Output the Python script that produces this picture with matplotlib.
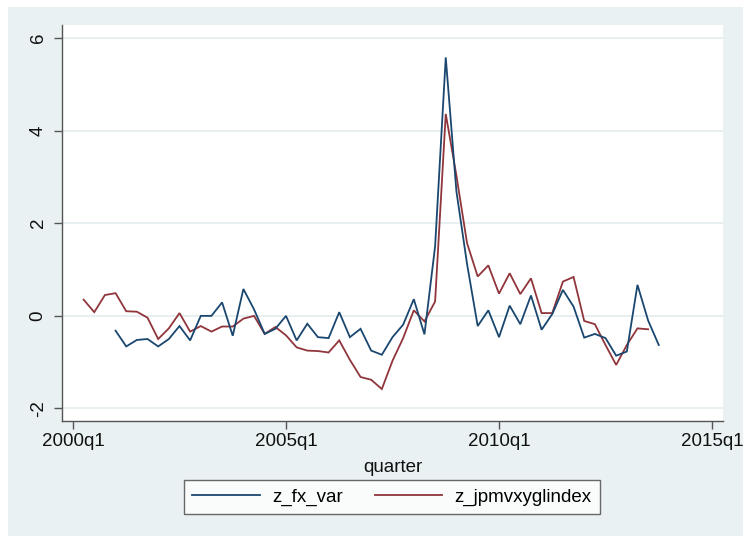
import matplotlib
matplotlib.use("Agg")
import matplotlib.pyplot as plt
from matplotlib.patches import Rectangle
import numpy as np

plt.rcParams['font.family'] = ['Liberation Sans', 'DejaVu Sans']

# Quarterly series (quarter index 0 = 2000q1)
fx_start = "2001q1"
z_fx_var = [
    -0.32, -0.66, -0.52, -0.50, -0.66, -0.50, -0.22, -0.53,
    0.00, 0.00, 0.29, -0.43, 0.58, 0.14, -0.39, -0.28,
    0.00, -0.53, -0.17, -0.46, -0.48, 0.08, -0.46, -0.28,
    -0.75, -0.84, -0.46, -0.19, 0.36, -0.40, 1.50, 5.58,
    2.69, 1.12, -0.22, 0.12, -0.46, 0.22, -0.18, 0.44,
    -0.30, 0.04, 0.56, 0.20, -0.47, -0.39, -0.48, -0.86,
    -0.77, 0.67, -0.10, -0.63,
]

jpm_start = "2000q2"
z_jpmvxyglindex = [
    0.35, 0.08, 0.45, 0.49, 0.10, 0.09, -0.04, -0.50,
    -0.27, 0.06, -0.34, -0.22, -0.34, -0.23, -0.23, -0.06,
    0.00, -0.39, -0.24, -0.42, -0.68, -0.75, -0.76, -0.79,
    -0.53, -0.95, -1.32, -1.38, -1.58, -0.97, -0.48, 0.12,
    -0.12, 0.31, 4.36, 3.03, 1.57, 0.85, 1.09, 0.48,
    0.92, 0.47, 0.81, 0.06, 0.06, 0.74, 0.84, -0.11,
    -0.18, -0.63, -1.06, -0.63, -0.27, -0.29,
]

x_tick_labels = ["2000q1", "2005q1", "2010q1", "2015q1"]
y_ticks = [-2, 0, 2, 4, 6]


def quarter_index(label):
    year, q = label.split("q")
    return (int(year) - 2000) * 4 + int(q) - 1


bg = "#e9f1f3"
navy = "#1a476f"
maroon = "#90353b"
axis_col = "#555555"
W, H = 743, 536
fs = 13.5

fig = plt.figure(figsize=(W / 100, H / 100), dpi=100, facecolor="white")
# graph region, with a thin white margin on the left and top
fig.patches.append(Rectangle((8 / W, 0), 1 - 8 / W, 1 - 7 / H,
                             transform=fig.transFigure, facecolor=bg,
                             edgecolor="none", zorder=-10))

ax = fig.add_axes([62 / W, 1 - 421 / H, (723 - 62) / W, (421 - 25) / H])
ax.set_facecolor("white")

x_fx = quarter_index(fx_start) + np.arange(len(z_fx_var))
x_jpm = quarter_index(jpm_start) + np.arange(len(z_jpmvxyglindex))

for y in y_ticks:
    ax.axhline(y, color="#e3ecee", lw=1.2, zorder=0)

ax.plot(x_fx, z_fx_var, color=navy, lw=1.3, label="z_fx_var", zorder=3,
        solid_joinstyle="miter")
ax.plot(x_jpm, z_jpmvxyglindex, color=maroon, lw=1.3, label="z_jpmvxyglindex",
        zorder=2, solid_joinstyle="miter")

ax.set_xlim(-1.03, 61.03)
ax.set_ylim(-2.27, 6.28)

ax.set_xticks([quarter_index(l) for l in x_tick_labels])
ax.set_xticklabels(x_tick_labels)
ax.set_yticks(y_ticks)
ax.set_yticklabels([str(v) for v in y_ticks], rotation=90, va="center")

for s in ["top", "right"]:
    ax.spines[s].set_visible(False)
for s in ["left", "bottom"]:
    ax.spines[s].set_color(axis_col)
    ax.spines[s].set_linewidth(1.0)

ax.tick_params(axis="both", direction="out", length=6, width=1.0,
               color=axis_col, labelsize=fs, labelcolor="#111111", pad=3)
ax.tick_params(axis="y", pad=5)

ax.set_xlabel("quarter", fontsize=fs, color="#111111", labelpad=6)

leg = fig.legend(loc="center", bbox_to_anchor=(392 / W, 1 - 497 / H),
                 ncol=2, frameon=True, fancybox=False, fontsize=fs,
                 handlelength=3.6, columnspacing=1.7, handletextpad=0.65,
                 borderpad=0.45, borderaxespad=0)
leg.get_frame().set_edgecolor("#444444")
leg.get_frame().set_linewidth(1.0)
leg.get_frame().set_facecolor("white")
for line in leg.get_lines():
    line.set_linewidth(1.3)

fig.savefig("out.png", dpi=100, facecolor="white")
